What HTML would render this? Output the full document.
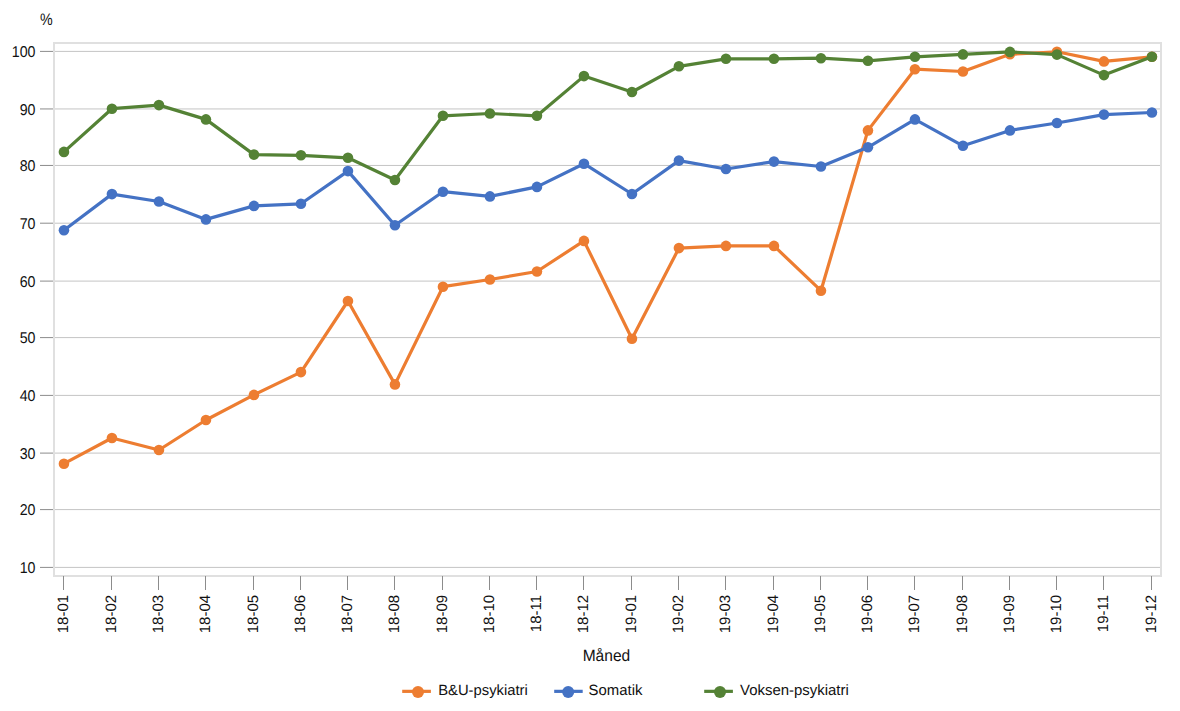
<!DOCTYPE html><html><head><meta charset="utf-8"><style>html,body{margin:0;padding:0;background:#fff;overflow:hidden;}svg{display:block;}text{font-family:"Liberation Sans",sans-serif;text-rendering:geometricPrecision;}</style></head><body>
<svg width="1180" height="711" viewBox="0 0 1180 711">
<rect width="1180" height="711" fill="#fff"/>
<g shape-rendering="crispEdges" fill="#e0e0e0">
<rect x="53" y="42" width="1109" height="2"/>
<rect x="53" y="575" width="1109" height="2"/>
<rect x="53" y="42" width="2" height="535"/>
<rect x="1160" y="42" width="2" height="535"/>
</g>
<line x1="55" y1="51.4" x2="1160" y2="51.4" stroke="#c4c4c4" stroke-width="1"/>
<line x1="40" y1="51.4" x2="53" y2="51.4" stroke="#8c8c8c" stroke-width="1"/>
<line x1="55" y1="108.95" x2="1160" y2="108.95" stroke="#c4c4c4" stroke-width="1"/>
<line x1="40" y1="108.95" x2="53" y2="108.95" stroke="#8c8c8c" stroke-width="1"/>
<line x1="55" y1="165.44" x2="1160" y2="165.44" stroke="#c4c4c4" stroke-width="1"/>
<line x1="40" y1="165.44" x2="53" y2="165.44" stroke="#8c8c8c" stroke-width="1"/>
<line x1="55" y1="223.2" x2="1160" y2="223.2" stroke="#c4c4c4" stroke-width="1"/>
<line x1="40" y1="223.2" x2="53" y2="223.2" stroke="#8c8c8c" stroke-width="1"/>
<line x1="55" y1="281.1" x2="1160" y2="281.1" stroke="#c4c4c4" stroke-width="1"/>
<line x1="40" y1="281.1" x2="53" y2="281.1" stroke="#8c8c8c" stroke-width="1"/>
<line x1="55" y1="337.6" x2="1160" y2="337.6" stroke="#c4c4c4" stroke-width="1"/>
<line x1="40" y1="337.6" x2="53" y2="337.6" stroke="#8c8c8c" stroke-width="1"/>
<line x1="55" y1="395.4" x2="1160" y2="395.4" stroke="#c4c4c4" stroke-width="1"/>
<line x1="40" y1="395.4" x2="53" y2="395.4" stroke="#8c8c8c" stroke-width="1"/>
<line x1="55" y1="453.1" x2="1160" y2="453.1" stroke="#c4c4c4" stroke-width="1"/>
<line x1="40" y1="453.1" x2="53" y2="453.1" stroke="#8c8c8c" stroke-width="1"/>
<line x1="55" y1="509.6" x2="1160" y2="509.6" stroke="#c4c4c4" stroke-width="1"/>
<line x1="40" y1="509.6" x2="53" y2="509.6" stroke="#8c8c8c" stroke-width="1"/>
<line x1="55" y1="567.4" x2="1160" y2="567.4" stroke="#c4c4c4" stroke-width="1"/>
<line x1="40" y1="567.4" x2="53" y2="567.4" stroke="#8c8c8c" stroke-width="1"/>
<g shape-rendering="crispEdges">
<rect x="63" y="576" width="1" height="14" fill="#8c8c8c"/>
<rect x="111" y="576" width="1" height="14" fill="#8c8c8c"/>
<rect x="158" y="576" width="1" height="14" fill="#8c8c8c"/>
<rect x="205" y="576" width="1" height="14" fill="#8c8c8c"/>
<rect x="253" y="576" width="1" height="14" fill="#8c8c8c"/>
<rect x="300" y="576" width="1" height="14" fill="#8c8c8c"/>
<rect x="347" y="576" width="1" height="14" fill="#8c8c8c"/>
<rect x="394" y="576" width="1" height="14" fill="#8c8c8c"/>
<rect x="442" y="576" width="1" height="14" fill="#8c8c8c"/>
<rect x="489" y="576" width="1" height="14" fill="#8c8c8c"/>
<rect x="536" y="576" width="1" height="14" fill="#8c8c8c"/>
<rect x="583" y="576" width="1" height="14" fill="#8c8c8c"/>
<rect x="631" y="576" width="1" height="14" fill="#8c8c8c"/>
<rect x="678" y="576" width="1" height="14" fill="#8c8c8c"/>
<rect x="725" y="576" width="1" height="14" fill="#8c8c8c"/>
<rect x="773" y="576" width="1" height="14" fill="#8c8c8c"/>
<rect x="820" y="576" width="1" height="14" fill="#8c8c8c"/>
<rect x="867" y="576" width="1" height="14" fill="#8c8c8c"/>
<rect x="914" y="576" width="1" height="14" fill="#8c8c8c"/>
<rect x="962" y="576" width="1" height="14" fill="#8c8c8c"/>
<rect x="1009" y="576" width="1" height="14" fill="#8c8c8c"/>
<rect x="1056" y="576" width="1" height="14" fill="#8c8c8c"/>
<rect x="1103" y="576" width="1" height="14" fill="#8c8c8c"/>
<rect x="1151" y="576" width="1" height="14" fill="#8c8c8c"/>
</g>
<text transform="translate(35.50,57.00) scale(0.91,1.0)" font-size="15.6" fill="#111" text-anchor="end" text-rendering="geometricPrecision">100</text>
<text transform="translate(35.50,114.55) scale(0.91,1.0)" font-size="15.6" fill="#111" text-anchor="end" text-rendering="geometricPrecision">90</text>
<text transform="translate(35.50,171.04) scale(0.91,1.0)" font-size="15.6" fill="#111" text-anchor="end" text-rendering="geometricPrecision">80</text>
<text transform="translate(35.50,228.80) scale(0.91,1.0)" font-size="15.6" fill="#111" text-anchor="end" text-rendering="geometricPrecision">70</text>
<text transform="translate(35.50,286.70) scale(0.91,1.0)" font-size="15.6" fill="#111" text-anchor="end" text-rendering="geometricPrecision">60</text>
<text transform="translate(35.50,343.20) scale(0.91,1.0)" font-size="15.6" fill="#111" text-anchor="end" text-rendering="geometricPrecision">50</text>
<text transform="translate(35.50,401.00) scale(0.91,1.0)" font-size="15.6" fill="#111" text-anchor="end" text-rendering="geometricPrecision">40</text>
<text transform="translate(35.50,458.70) scale(0.91,1.0)" font-size="15.6" fill="#111" text-anchor="end" text-rendering="geometricPrecision">30</text>
<text transform="translate(35.50,515.20) scale(0.91,1.0)" font-size="15.6" fill="#111" text-anchor="end" text-rendering="geometricPrecision">20</text>
<text transform="translate(35.50,573.00) scale(0.91,1.0)" font-size="15.6" fill="#111" text-anchor="end" text-rendering="geometricPrecision">10</text>
<text transform="translate(39.90,25.10) scale(0.86,1.0)" font-size="16.6" fill="#111" text-anchor="start">%</text>
<text transform="translate(67.95,594.9) rotate(-90) scale(1,1.0)" font-size="15" fill="#111" text-anchor="end">18-01</text>
<text transform="translate(115.95,594.9) rotate(-90) scale(1,1.0)" font-size="15" fill="#111" text-anchor="end">18-02</text>
<text transform="translate(162.95,594.9) rotate(-90) scale(1,1.0)" font-size="15" fill="#111" text-anchor="end">18-03</text>
<text transform="translate(209.95,594.9) rotate(-90) scale(1,1.0)" font-size="15" fill="#111" text-anchor="end">18-04</text>
<text transform="translate(257.95,594.9) rotate(-90) scale(1,1.0)" font-size="15" fill="#111" text-anchor="end">18-05</text>
<text transform="translate(304.95,594.9) rotate(-90) scale(1,1.0)" font-size="15" fill="#111" text-anchor="end">18-06</text>
<text transform="translate(351.95,594.9) rotate(-90) scale(1,1.0)" font-size="15" fill="#111" text-anchor="end">18-07</text>
<text transform="translate(398.95,594.9) rotate(-90) scale(1,1.0)" font-size="15" fill="#111" text-anchor="end">18-08</text>
<text transform="translate(446.95,594.9) rotate(-90) scale(1,1.0)" font-size="15" fill="#111" text-anchor="end">18-09</text>
<text transform="translate(493.95,594.9) rotate(-90) scale(1,1.0)" font-size="15" fill="#111" text-anchor="end">18-10</text>
<text transform="translate(540.95,594.9) rotate(-90) scale(1,1.0)" font-size="15" fill="#111" text-anchor="end">18-11</text>
<text transform="translate(587.95,594.9) rotate(-90) scale(1,1.0)" font-size="15" fill="#111" text-anchor="end">18-12</text>
<text transform="translate(635.95,594.9) rotate(-90) scale(1,1.0)" font-size="15" fill="#111" text-anchor="end">19-01</text>
<text transform="translate(682.95,594.9) rotate(-90) scale(1,1.0)" font-size="15" fill="#111" text-anchor="end">19-02</text>
<text transform="translate(729.95,594.9) rotate(-90) scale(1,1.0)" font-size="15" fill="#111" text-anchor="end">19-03</text>
<text transform="translate(777.95,594.9) rotate(-90) scale(1,1.0)" font-size="15" fill="#111" text-anchor="end">19-04</text>
<text transform="translate(824.95,594.9) rotate(-90) scale(1,1.0)" font-size="15" fill="#111" text-anchor="end">19-05</text>
<text transform="translate(871.95,594.9) rotate(-90) scale(1,1.0)" font-size="15" fill="#111" text-anchor="end">19-06</text>
<text transform="translate(918.95,594.9) rotate(-90) scale(1,1.0)" font-size="15" fill="#111" text-anchor="end">19-07</text>
<text transform="translate(966.95,594.9) rotate(-90) scale(1,1.0)" font-size="15" fill="#111" text-anchor="end">19-08</text>
<text transform="translate(1013.95,594.9) rotate(-90) scale(1,1.0)" font-size="15" fill="#111" text-anchor="end">19-09</text>
<text transform="translate(1060.95,594.9) rotate(-90) scale(1,1.0)" font-size="15" fill="#111" text-anchor="end">19-10</text>
<text transform="translate(1107.95,594.9) rotate(-90) scale(1,1.0)" font-size="15" fill="#111" text-anchor="end">19-11</text>
<text transform="translate(1155.95,594.9) rotate(-90) scale(1,1.0)" font-size="15" fill="#111" text-anchor="end">19-12</text>
<text transform="translate(606.40,660.70) scale(0.955,1.0)" font-size="16.3" fill="#111" text-anchor="middle">Måned</text>
<polyline points="63.95,463.70 111.95,438.00 158.95,450.00 205.95,420.00 253.95,394.90 300.95,372.10 347.95,301.00 394.95,384.40 442.95,286.70 489.95,279.50 536.95,271.50 583.95,240.90 631.95,338.80 678.95,248.10 725.95,245.90 773.95,245.90 820.95,290.70 867.95,130.40 914.95,69.20 962.95,71.50 1009.95,54.30 1056.95,51.80 1103.95,61.40 1151.95,56.80" fill="none" stroke="#ED7D31" stroke-width="3.2" stroke-linejoin="round" stroke-linecap="round"/><circle cx="63.95" cy="463.70" r="5.3" fill="#ED7D31"/><circle cx="111.95" cy="438.00" r="5.3" fill="#ED7D31"/><circle cx="158.95" cy="450.00" r="5.3" fill="#ED7D31"/><circle cx="205.95" cy="420.00" r="5.3" fill="#ED7D31"/><circle cx="253.95" cy="394.90" r="5.3" fill="#ED7D31"/><circle cx="300.95" cy="372.10" r="5.3" fill="#ED7D31"/><circle cx="347.95" cy="301.00" r="5.3" fill="#ED7D31"/><circle cx="394.95" cy="384.40" r="5.3" fill="#ED7D31"/><circle cx="442.95" cy="286.70" r="5.3" fill="#ED7D31"/><circle cx="489.95" cy="279.50" r="5.3" fill="#ED7D31"/><circle cx="536.95" cy="271.50" r="5.3" fill="#ED7D31"/><circle cx="583.95" cy="240.90" r="5.3" fill="#ED7D31"/><circle cx="631.95" cy="338.80" r="5.3" fill="#ED7D31"/><circle cx="678.95" cy="248.10" r="5.3" fill="#ED7D31"/><circle cx="725.95" cy="245.90" r="5.3" fill="#ED7D31"/><circle cx="773.95" cy="245.90" r="5.3" fill="#ED7D31"/><circle cx="820.95" cy="290.70" r="5.3" fill="#ED7D31"/><circle cx="867.95" cy="130.40" r="5.3" fill="#ED7D31"/><circle cx="914.95" cy="69.20" r="5.3" fill="#ED7D31"/><circle cx="962.95" cy="71.50" r="5.3" fill="#ED7D31"/><circle cx="1009.95" cy="54.30" r="5.3" fill="#ED7D31"/><circle cx="1056.95" cy="51.80" r="5.3" fill="#ED7D31"/><circle cx="1103.95" cy="61.40" r="5.3" fill="#ED7D31"/><circle cx="1151.95" cy="56.80" r="5.3" fill="#ED7D31"/>
<polyline points="63.95,230.20 111.95,194.10 158.95,201.50 205.95,219.40 253.95,205.90 300.95,203.80 347.95,171.10 394.95,225.30 442.95,191.70 489.95,196.40 536.95,186.90 583.95,163.70 631.95,194.00 678.95,160.60 725.95,169.00 773.95,161.60 820.95,166.50 867.95,147.30 914.95,119.40 962.95,145.80 1009.95,130.40 1056.95,123.00 1103.95,114.60 1151.95,112.50" fill="none" stroke="#4472C4" stroke-width="3.2" stroke-linejoin="round" stroke-linecap="round"/><circle cx="63.95" cy="230.20" r="5.3" fill="#4472C4"/><circle cx="111.95" cy="194.10" r="5.3" fill="#4472C4"/><circle cx="158.95" cy="201.50" r="5.3" fill="#4472C4"/><circle cx="205.95" cy="219.40" r="5.3" fill="#4472C4"/><circle cx="253.95" cy="205.90" r="5.3" fill="#4472C4"/><circle cx="300.95" cy="203.80" r="5.3" fill="#4472C4"/><circle cx="347.95" cy="171.10" r="5.3" fill="#4472C4"/><circle cx="394.95" cy="225.30" r="5.3" fill="#4472C4"/><circle cx="442.95" cy="191.70" r="5.3" fill="#4472C4"/><circle cx="489.95" cy="196.40" r="5.3" fill="#4472C4"/><circle cx="536.95" cy="186.90" r="5.3" fill="#4472C4"/><circle cx="583.95" cy="163.70" r="5.3" fill="#4472C4"/><circle cx="631.95" cy="194.00" r="5.3" fill="#4472C4"/><circle cx="678.95" cy="160.60" r="5.3" fill="#4472C4"/><circle cx="725.95" cy="169.00" r="5.3" fill="#4472C4"/><circle cx="773.95" cy="161.60" r="5.3" fill="#4472C4"/><circle cx="820.95" cy="166.50" r="5.3" fill="#4472C4"/><circle cx="867.95" cy="147.30" r="5.3" fill="#4472C4"/><circle cx="914.95" cy="119.40" r="5.3" fill="#4472C4"/><circle cx="962.95" cy="145.80" r="5.3" fill="#4472C4"/><circle cx="1009.95" cy="130.40" r="5.3" fill="#4472C4"/><circle cx="1056.95" cy="123.00" r="5.3" fill="#4472C4"/><circle cx="1103.95" cy="114.60" r="5.3" fill="#4472C4"/><circle cx="1151.95" cy="112.50" r="5.3" fill="#4472C4"/>
<polyline points="63.95,151.90 111.95,108.70 158.95,105.10 205.95,119.40 253.95,154.60 300.95,155.30 347.95,157.80 394.95,180.00 442.95,115.80 489.95,113.50 536.95,115.80 583.95,76.10 631.95,92.00 678.95,66.30 725.95,58.80 773.95,58.80 820.95,58.20 867.95,60.80 914.95,56.80 962.95,54.40 1009.95,51.90 1056.95,54.60 1103.95,75.10 1151.95,56.80" fill="none" stroke="#548235" stroke-width="3.2" stroke-linejoin="round" stroke-linecap="round"/><circle cx="63.95" cy="151.90" r="5.3" fill="#548235"/><circle cx="111.95" cy="108.70" r="5.3" fill="#548235"/><circle cx="158.95" cy="105.10" r="5.3" fill="#548235"/><circle cx="205.95" cy="119.40" r="5.3" fill="#548235"/><circle cx="253.95" cy="154.60" r="5.3" fill="#548235"/><circle cx="300.95" cy="155.30" r="5.3" fill="#548235"/><circle cx="347.95" cy="157.80" r="5.3" fill="#548235"/><circle cx="394.95" cy="180.00" r="5.3" fill="#548235"/><circle cx="442.95" cy="115.80" r="5.3" fill="#548235"/><circle cx="489.95" cy="113.50" r="5.3" fill="#548235"/><circle cx="536.95" cy="115.80" r="5.3" fill="#548235"/><circle cx="583.95" cy="76.10" r="5.3" fill="#548235"/><circle cx="631.95" cy="92.00" r="5.3" fill="#548235"/><circle cx="678.95" cy="66.30" r="5.3" fill="#548235"/><circle cx="725.95" cy="58.80" r="5.3" fill="#548235"/><circle cx="773.95" cy="58.80" r="5.3" fill="#548235"/><circle cx="820.95" cy="58.20" r="5.3" fill="#548235"/><circle cx="867.95" cy="60.80" r="5.3" fill="#548235"/><circle cx="914.95" cy="56.80" r="5.3" fill="#548235"/><circle cx="962.95" cy="54.40" r="5.3" fill="#548235"/><circle cx="1009.95" cy="51.90" r="5.3" fill="#548235"/><circle cx="1056.95" cy="54.60" r="5.3" fill="#548235"/><circle cx="1103.95" cy="75.10" r="5.3" fill="#548235"/><circle cx="1151.95" cy="56.80" r="5.3" fill="#548235"/>
<line x1="402.2" y1="691.35" x2="430.9" y2="691.35" stroke="#ED7D31" stroke-width="3.2"/><circle cx="418.0" cy="692.0" r="6.0" fill="#ED7D31"/><text transform="translate(438.20,694.70) scale(1.0,1.0)" font-size="14.8" fill="#111" text-anchor="start">B&amp;U-psykiatri</text>
<line x1="554.2" y1="691.35" x2="582.7" y2="691.35" stroke="#4472C4" stroke-width="3.2"/><circle cx="568.2" cy="692.0" r="6.0" fill="#4472C4"/><text transform="translate(588.60,694.70) scale(1.0,1.0)" font-size="14.9" fill="#111" text-anchor="start">Somatik</text>
<line x1="704.2" y1="691.35" x2="732.9" y2="691.35" stroke="#548235" stroke-width="3.2"/><circle cx="720.0" cy="692.0" r="6.0" fill="#548235"/><text transform="translate(740.00,694.70) scale(1.0,1.0)" font-size="14.95" fill="#111" text-anchor="start">Voksen-psykiatri</text>
</svg></body></html>
